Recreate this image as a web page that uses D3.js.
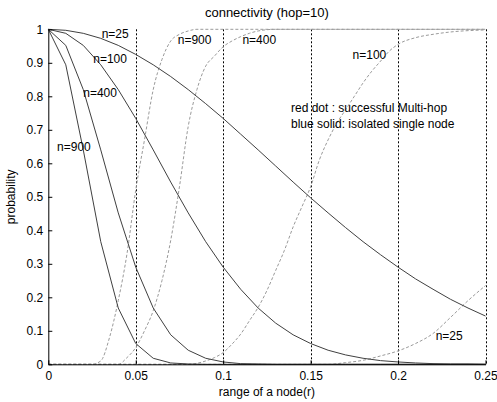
<!DOCTYPE html>
<html>
<head>
<meta charset="utf-8">
<script src="https://cdn.jsdelivr.net/npm/d3@7/dist/d3.min.js"></script>
<style>
  html, body { margin: 0; padding: 0; background: #fff; }
  svg { display: block; font-family: "Liberation Sans", Arial, Helvetica, sans-serif; }
</style>
</head>
<body>
<svg id="chart" width="497" height="402"></svg>
<script>
// ---------------- data ----------------
const title = "connectivity (hop=10)";
const xLabel = "range of a node(r)";
const yLabel = "probability";
const xTicks = [0, 0.05, 0.1, 0.15, 0.2, 0.25];
const xTickLabels = ["0", "0.05", "0.1", "0.15", "0.2", "0.25"];
const yTicks = [0, 0.1, 0.2, 0.3, 0.4, 0.5, 0.6, 0.7, 0.8, 0.9, 1];
const yTickLabels = ["0", "0.1", "0.2", "0.3", "0.4", "0.5", "0.6", "0.7", "0.8", "0.9", "1"];

// isolated single node (solid), sampled at r = 0, 0.01, ..., 0.25
const rSolid = [0, 0.01, 0.02, 0.03, 0.04, 0.05, 0.06, 0.07, 0.08, 0.09, 0.10, 0.11, 0.12,
                0.13, 0.14, 0.15, 0.16, 0.17, 0.18, 0.19, 0.20, 0.21, 0.22, 0.23, 0.24, 0.25];
const isoN25  = [1, 0.997, 0.988, 0.973, 0.952, 0.925, 0.894, 0.859, 0.82, 0.778, 0.734, 0.687, 0.64,
                 0.592, 0.544, 0.497, 0.452, 0.408, 0.366, 0.327, 0.29, 0.255, 0.224, 0.194, 0.168, 0.144];
const isoN100 = [1, 0.988, 0.952, 0.894, 0.82, 0.734, 0.64, 0.544, 0.452, 0.366, 0.29, 0.224, 0.168,
                 0.123, 0.088, 0.062, 0.042, 0.028, 0.018, 0.011, 0.007, 0.004, 0.002, 0.001, 0.001, 0];
const isoN400 = [1, 0.952, 0.82, 0.64, 0.452, 0.29, 0.168, 0.088, 0.042, 0.018, 0.007, 0.002, 0.001,
                 0, 0, 0, 0, 0, 0, 0, 0, 0, 0, 0, 0, 0];
const isoN900 = [1, 0.894, 0.64, 0.366, 0.168, 0.062, 0.018, 0.004, 0.001, 0, 0, 0, 0,
                 0, 0, 0, 0, 0, 0, 0, 0, 0, 0, 0, 0, 0];

// successful multi-hop (dashed)
const rMh900 = [0, 0.025, 0.03, 0.035, 0.04, 0.045, 0.05, 0.055, 0.06, 0.065, 0.07, 0.075, 0.08, 0.085, 0.25];
const mhN900 = [0, 0, 0.01, 0.08, 0.19, 0.33, 0.52, 0.67, 0.82, 0.91, 0.965, 0.985, 0.995, 1, 1];
const rMh400 = [0, 0.04, 0.045, 0.05, 0.055, 0.06, 0.065, 0.07, 0.075, 0.08, 0.085, 0.09, 0.095,
                0.1, 0.105, 0.11, 0.115, 0.12, 0.13, 0.25];
const mhN400 = [0, 0, 0.02, 0.05, 0.10, 0.16, 0.25, 0.37, 0.53, 0.71, 0.82, 0.89, 0.92,
                0.948, 0.965, 0.978, 0.988, 0.995, 1, 1];
const rMh100 = [0, 0.08, 0.085, 0.09, 0.095, 0.1, 0.105, 0.11, 0.115, 0.12, 0.125, 0.13, 0.135, 0.14,
                0.145, 0.15, 0.155, 0.16, 0.165, 0.17, 0.175, 0.18, 0.185, 0.19, 0.195, 0.2,
                0.21, 0.22, 0.23, 0.24, 0.25];
const mhN100 = [0, 0, 0.003, 0.01, 0.02, 0.035, 0.06, 0.09, 0.13, 0.17, 0.22, 0.28, 0.34, 0.41,
                0.47, 0.53, 0.61, 0.67, 0.72, 0.76, 0.80, 0.84, 0.875, 0.905, 0.935, 0.955,
                0.975, 0.985, 0.992, 0.996, 0.998];
const rMh25  = [0, 0.16, 0.17, 0.18, 0.19, 0.2, 0.21, 0.22, 0.23, 0.24, 0.25];
const mhN25  = [0, 0, 0.005, 0.012, 0.025, 0.04, 0.062, 0.092, 0.14, 0.19, 0.235];

const curveLabels = [
  {text: "n=25",  x: 0.0305, y: 0.975},
  {text: "n=100", x: 0.0257, y: 0.898},
  {text: "n=400", x: 0.0200, y: 0.797},
  {text: "n=900", x: 0.0050, y: 0.638},
  {text: "n=900", x: 0.0740, y: 0.955},
  {text: "n=400", x: 0.1110, y: 0.955},
  {text: "n=100", x: 0.1740, y: 0.910},
  {text: "n=25",  x: 0.2215, y: 0.073}
];
const legendLines = ["red dot : successful Multi-hop", "blue solid: isolated single node"];

// ---------------- drawing ----------------
const svg = d3.select("#chart");
const L = 48.3, R = 485.5, T = 29.3, B = 364.3;
const x = d3.scaleLinear().domain([0, 0.25]).range([L, R]);
const y = d3.scaleLinear().domain([0, 1]).range([B, T]);

// vertical dashed grid
svg.append("g").selectAll("line").data(xTicks.filter(d => d > 0)).join("line")
  .attr("x1", d => Math.round(x(d)) + 0.5).attr("x2", d => Math.round(x(d)) + 0.5)
  .attr("y1", T).attr("y2", B)
  .attr("stroke", "#000").attr("stroke-width", 1).attr("stroke-dasharray", "2,2");

const line = d3.line().x(d => x(d[0])).y(d => y(d[1]));
const smooth = d3.line().x(d => x(d[0])).y(d => y(d[1])).curve(d3.curveMonotoneX);

const dashed = [[rMh900, mhN900], [rMh400, mhN400], [rMh100, mhN100], [rMh25, mhN25]];
svg.append("g").selectAll("path").data(dashed).join("path")
  .attr("d", s => smooth(s[0].map((r, i) => [r, s[1][i]])))
  .attr("fill", "none").attr("stroke", "#9a9a9a").attr("stroke-width", 1)
  .attr("stroke-dasharray", "3,2");

const solids = [isoN25, isoN100, isoN400, isoN900];
svg.append("g").selectAll("path").data(solids).join("path")
  .attr("d", s => line(rSolid.map((r, i) => [r, s[i]])))
  .attr("fill", "none").attr("stroke", "#404040").attr("stroke-width", 1);

// axes
const xAxis = d3.axisBottom(x).tickValues(xTicks).tickFormat((d, i) => xTickLabels[i])
  .tickSizeInner(-4).tickSizeOuter(0).tickPadding(7);
const gx = svg.append("g").attr("transform", `translate(0,${B})`).call(xAxis);
const yAxis = d3.axisLeft(y).tickValues(yTicks).tickFormat((d, i) => yTickLabels[i])
  .tickSizeInner(-4).tickSizeOuter(0).tickPadding(5);
const gy = svg.append("g").attr("transform", `translate(${L},0)`).call(yAxis);
[gx, gy].forEach(g => {
  g.select(".domain").attr("stroke", "#000");
  g.selectAll(".tick line").attr("stroke", "#000");
  g.selectAll("text").attr("fill", "#000").attr("font-size", 12)
    .attr("font-family", "Liberation Sans, Arial, sans-serif");
});

// curve labels
svg.append("g").selectAll("text").data(curveLabels).join("text")
  .attr("x", d => x(d.x)).attr("y", d => y(d.y))
  .attr("font-size", 12).attr("fill", "#000").text(d => d.text);

// legend text
svg.append("g").selectAll("text").data(legendLines).join("text")
  .attr("x", 291).attr("y", (d, i) => 112 + i * 16)
  .attr("font-size", 12).attr("fill", "#000").text(d => d);

// titles
svg.append("text").attr("x", (L + R) / 2).attr("y", 17).attr("text-anchor", "middle")
  .attr("font-size", 13).attr("fill", "#000").text(title);
svg.append("text").attr("x", (L + R) / 2).attr("y", 396).attr("text-anchor", "middle")
  .attr("font-size", 12).attr("fill", "#000").text(xLabel);
svg.append("text").attr("transform", `translate(15,${(T + B) / 2}) rotate(-90)`)
  .attr("text-anchor", "middle").attr("font-size", 12).attr("fill", "#000").text(yLabel);
</script>
</body>
</html>
